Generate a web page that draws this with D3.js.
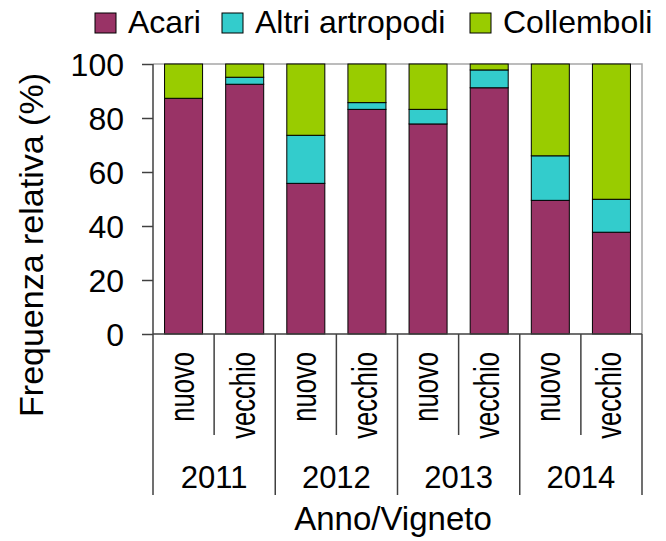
<!DOCTYPE html>
<html>
<head>
	<meta charset="utf-8">
	<title>Frequenza relativa</title>
	<style>
		body { margin: 0; background: #fff; }
		text { font-family: "Liberation Sans", Arial, sans-serif; fill: #000; }
	</style>
</head>
<body>
	<script src="https://cdn.jsdelivr.net/npm/d3@7"></script>
	<script>
// data
var years = ['2011', '2012', '2013', '2014'];
var vineyards = ['nuovo', 'vecchio'];
var seriesNames = ['Acari', 'Altri artropodi', 'Collemboli'];
var seriesColors = ['#993366', '#33cccc', '#99cc00'];
var acari = [87.3, 92.5, 55.8, 83.2, 77.8, 91.2, 49.5, 37.7];
var altri = [0, 2.6, 17.8, 2.5, 5.4, 6.6, 16.5, 12.2];
var collemboli = [12.7, 4.9, 26.4, 14.3, 16.8, 2.2, 34.0, 50.1];
var yTicks = [0, 20, 40, 60, 80, 100];

var width = 666, height = 541;
var plotLeft = 153, plotRight = 642, plotTop = 64, plotBottom = 334;

var svg = d3.select('body').append('svg')
	.attr('width', width)
	.attr('height', height);

// one row per bar
var rows = [];
years.forEach(function(yr, i) {
	vineyards.forEach(function(v, j) {
		var k = i * vineyards.length + j;
		rows.push({ key: yr + '-' + v, year: yr, vigneto: v,
			'Acari': acari[k], 'Altri artropodi': altri[k], 'Collemboli': collemboli[k] });
	});
});

var x = d3.scaleBand()
	.domain(rows.map(function(d) { return d.key; }))
	.range([plotLeft, plotRight])
	.paddingInner(0.378)
	.paddingOuter(0.189);

var xGroup = d3.scaleBand()
	.domain(years)
	.range([plotLeft, plotRight]);

var y = d3.scaleLinear()
	.domain([0, 100])
	.range([plotBottom, plotTop]);

var color = d3.scaleOrdinal().domain(seriesNames).range(seriesColors);

var stacked = d3.stack().keys(seriesNames)(rows);

// plot frame (top and right, light grey)
svg.append('path')
	.attr('d', 'M' + plotLeft + ',' + y(100) + 'H' + plotRight + 'V' + plotBottom)
	.attr('fill', 'none')
	.attr('stroke', '#a6a6a6')
	.attr('stroke-width', 1.5);

svg.append('g')
	.selectAll('g')
	.data(stacked)
	.join('g')
	.attr('fill', function(d) { return color(d.key); })
	.selectAll('rect')
	.data(function(d) { return d; })
	.join('rect')
	.attr('x', function(d) { return x(d.data.key); })
	.attr('y', function(d) { return y(d[1]); })
	.attr('width', x.bandwidth())
	.attr('height', function(d) { return y(d[0]) - y(d[1]); })
	.attr('stroke', '#000')
	.attr('stroke-width', 1);

// y axis
var yAxis = svg.append('g')
	.attr('transform', 'translate(' + plotLeft + ',0)')
	.call(d3.axisLeft(y).tickValues(yTicks).tickSize(11).tickPadding(18));
yAxis.select('.domain').remove();
yAxis.selectAll('line').attr('stroke', '#404040').attr('stroke-width', 1.5);
yAxis.selectAll('text')
	.style('font-size', '32px')
	.style('font-family', '"Liberation Sans", Arial, sans-serif')
	.attr('fill', '#000')
	.attr('dy', '0.36em');

var axisColor = '#404040';
var catBottom = 435, groupBottom = 495;

// vertical axis line running down into the category area
svg.append('line')
	.attr('x1', plotLeft).attr('x2', plotLeft)
	.attr('y1', plotTop).attr('y2', groupBottom)
	.attr('stroke', axisColor).attr('stroke-width', 1.5);

// baseline
svg.append('line')
	.attr('x1', plotLeft).attr('x2', plotRight)
	.attr('y1', plotBottom).attr('y2', plotBottom)
	.attr('stroke', axisColor).attr('stroke-width', 1.5);

// separators between bars (short) and between years (long)
var step = x.step();
var seps = d3.range(1, rows.length + 1);
svg.append('g')
	.selectAll('line')
	.data(seps)
	.join('line')
	.attr('x1', function(i) { return plotLeft + i * step; })
	.attr('x2', function(i) { return plotLeft + i * step; })
	.attr('y1', plotBottom)
	.attr('y2', function(i) { return i % vineyards.length === 0 ? groupBottom : catBottom; })
	.attr('stroke', axisColor)
	.attr('stroke-width', 1.5);

// vigneto labels, rotated
svg.append('g')
	.selectAll('text')
	.data(rows)
	.join('text')
	.attr('transform', function(d) {
		var cx = x(d.key) + x.bandwidth() / 2 + 10;
		return 'translate(' + cx + ',352) rotate(-90) scale(0.8,1.08)';
	})
	.attr('text-anchor', 'end')
	.style('font-size', '32px')
	.text(function(d) { return d.vigneto; });

// year labels
svg.append('g')
	.selectAll('text')
	.data(years)
	.join('text')
	.attr('x', function(d) { return xGroup(d) + xGroup.bandwidth() / 2; })
	.attr('y', 488)
	.attr('text-anchor', 'middle')
	.style('font-size', '31px')
	.text(function(d) { return d; });

// axis titles
svg.append('text')
	.attr('x', 393)
	.attr('y', 530)
	.attr('text-anchor', 'middle')
	.style('font-size', '33px')
	.text('Anno/Vigneto');

svg.append('text')
	.attr('transform', 'translate(43,245) rotate(-90)')
	.attr('text-anchor', 'middle')
	.style('font-size', '34px')
	.text('Frequenza relativa (%)');

// legend
var legendX = [95, 222, 470];
var legend = svg.append('g')
	.selectAll('g')
	.data(seriesNames)
	.join('g')
	.attr('transform', function(d, i) { return 'translate(' + legendX[i] + ',13)'; });
legend.append('rect')
	.attr('width', 21).attr('height', 20)
	.attr('fill', function(d) { return color(d); })
	.attr('stroke', '#000').attr('stroke-width', 1);
legend.append('text')
	.attr('x', 33)
	.attr('y', 20)
	.style('font-size', '32px')
	.text(function(d) { return d; });
	</script>
</body>
</html>
